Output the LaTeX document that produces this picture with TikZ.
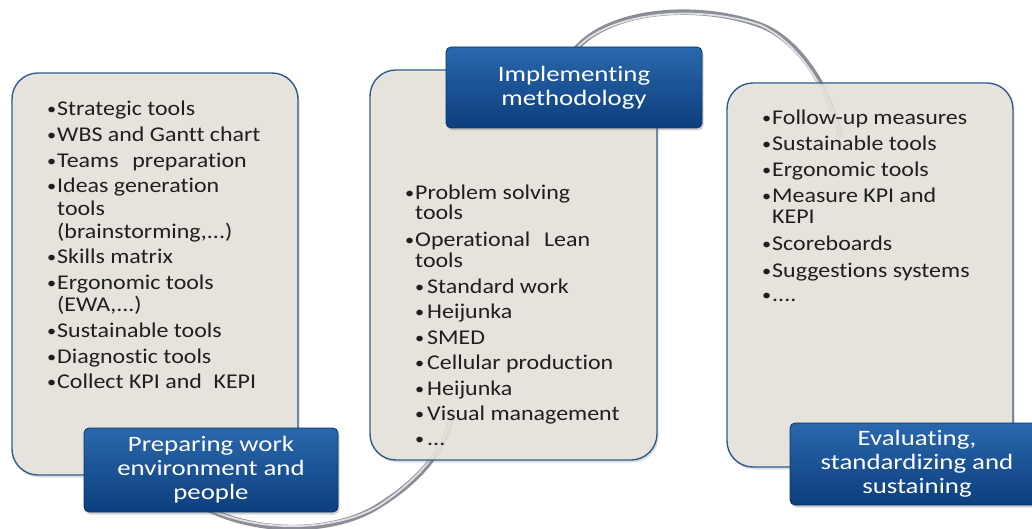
\documentclass[tikz,border=0pt]{standalone}
\usepackage{fontspec}
\newfontfamily\listfont[FakeStretch=1.14,Ligatures=NoCommon]{Carlito}
\newfontfamily\labfont[FakeStretch=1.22,Ligatures=NoCommon]{Carlito}
\usetikzlibrary{shadows}
\definecolor{boxfill}{RGB}{231,228,221}
\definecolor{boxline}{RGB}{47,92,140}
\definecolor{labtop}{RGB}{42,104,172}
\definecolor{labbot}{RGB}{12,62,125}
\definecolor{labline}{RGB}{10,50,100}
\definecolor{ring}{RGB}{140,142,150}
\definecolor{ringhi}{RGB}{222,224,228}
\newcommand\bulmark{\raisebox{1pt}{\fontsize{16}{16}\selectfont\textbullet}}
\newcommand\bl{\makebox[10pt][l]{\bulmark}}
\newcommand\sbl{\hspace{10pt}\makebox[12pt][l]{\bulmark}}
\begin{document}
\begin{tikzpicture}[x=1pt,y=-1pt,
  panel/.style={draw=boxline, line width=1.4pt, fill=boxfill, fill opacity=0.88,
    rounded corners=26pt, inner sep=0pt,
    drop shadow={opacity=0.25, shadow xshift=1.5pt, shadow yshift=-2.5pt}},
  lab/.style={draw=labline, line width=0.8pt, rounded corners=5pt, top color=labtop,
    bottom color=labbot, text=white, align=center, inner sep=0pt,
    font=\labfont\fontsize{22}{24}\selectfont,
    drop shadow={opacity=0.35, shadow xshift=1.5pt, shadow yshift=-2.5pt}},
  item/.style={anchor=base west, inner sep=0pt, text=black!88,
    font=\listfont\fontsize{21}{22}\selectfont},
  ringline/.style={draw=ring, line width=5.5pt, line cap=round},
  ringlight/.style={draw=ringhi, line width=1.8pt, line cap=round}]
\useasboundingbox (0,0) rectangle (1032,529);
\fill[white] (0,0) rectangle (1032,529);
% ring connectors (behind panels)
\coordinate (a1) at (200,505);
\coordinate (a2) at (380,505);
\coordinate (a3) at (452,415);
\coordinate (b1) at (575,50);
\coordinate (b2) at (760,25);
\coordinate (b3) at (840,135);
\draw[ringline] (a1) .. controls (260,538) and (340,532) .. (a2) .. controls (420,480) and (445,450) .. (a3);
\draw[ringlight] (a1) .. controls (260,536) and (340,530) .. (a2) .. controls (420,478) and (443,450) .. (a3);
\draw[ringline] (b1) .. controls (610,8) and (700,3) .. (b2) .. controls (800,40) and (830,90) .. (b3);
\draw[ringlight] (b1) .. controls (610,10) and (700,5) .. (b2) .. controls (798,42) and (828,90) .. (b3);
% panels
\node[panel, minimum width=286pt, minimum height=402pt] (P1) at (155,274) {};
\node[panel, minimum width=287pt, minimum height=390pt] (P2) at (513.5,265) {};
\node[panel, minimum width=286pt, minimum height=384pt] (P3) at (870,275) {};
% left list
\foreach \y/\t [count=\i] in {
  116/{\bl Strategic tools},
  142/{\bl WBS and Gantt chart},
  168/{\bl Teams\hspace{0.4em} preparation},
  193/{\bl Ideas generation},
  215/{\hspace{10pt}tools},
  238/{\hspace{10pt}(brainstorming,...)},
  263/{\bl Skills matrix},
  289/{\bl Ergonomic tools},
  311/{\hspace{10pt}(EWA,...)},
  337/{\bl Sustainable tools},
  363/{\bl Diagnostic tools},
  388/{\bl Collect KPI and\hspace{0.3em} KEPI}}
  \node[item] (L\i) at (47,\y) {\t};
% middle list
\foreach \y/\t [count=\i] in {
  200/{\bl Problem solving},
  220/{\hspace{10pt}tools},
  246/{\bl Operational\hspace{0.4em} Lean},
  267/{\hspace{10pt}tools},
  293/{\sbl Standard work},
  318/{\sbl Heijunka},
  344/{\sbl SMED},
  369/{\sbl Cellular production},
  395/{\sbl Heijunka},
  420/{\sbl Visual management},
  445/{\sbl ...}}
  \node[item] (M\i) at (405,\y) {\t};
% right list
\foreach \y/\t [count=\i] in {
  125/{\bl Follow-up measures},
  151/{\bl Sustainable tools},
  177/{\bl Ergonomic tools},
  203/{\bl Measure KPI and},
  224/{\hspace{10pt}KEPI},
  250/{\bl Scoreboards},
  277/{\bl Suggestions systems},
  301/{\bl ....}}
  \node[item] (R\i) at (762,\y) {\t};
% labels
\node[lab, minimum width=254pt, minimum height=84pt] (T1) at (211,470) {Preparing work\\environment and\\people};
\node[lab, minimum width=256pt, minimum height=81pt] (T2) at (574,87.5) {Implementing\\methodology};
\node[lab, minimum width=254pt, minimum height=82pt] (T3) at (917,464) {Evaluating,\\standardizing and\\sustaining};
\end{tikzpicture}
\end{document}
